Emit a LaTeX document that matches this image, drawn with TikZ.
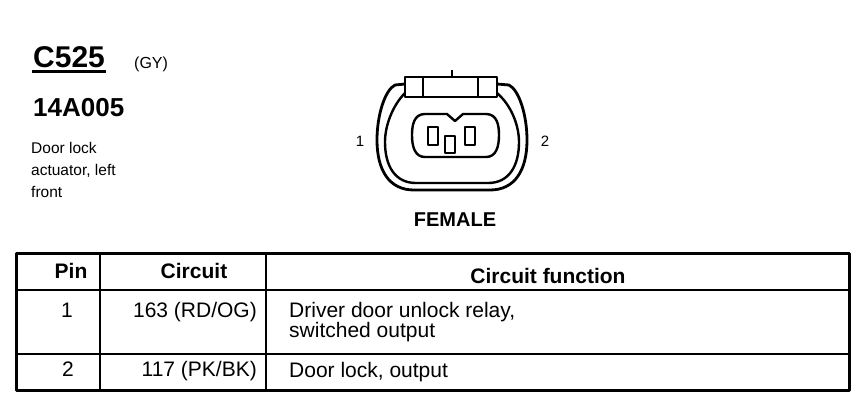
\documentclass[tikz,border=0pt]{standalone}
\usepackage{fontspec}
\setmainfont{Liberation Sans}
\usetikzlibrary{positioning}
\begin{document}
\begin{tikzpicture}[x=1pt, y=-1pt, line width=2.4pt, line join=round,
  txt/.style = {inner sep=0pt, anchor=base west, font=\fontsize{15.5}{18}\selectfont},
  cell/.style = {inner sep=0pt, anchor=base west, font=\fontsize{21}{25}\selectfont},
  head/.style = {inner sep=0pt, anchor=base, font=\fontsize{21}{25}\selectfont\bfseries},
  grid/.style = {line width=2.2pt},
  pinbox/.style = {line width=2.6pt}]
\useasboundingbox (0,0) rectangle (868,416);

% title block
\node[inner sep=0pt, anchor=base west, font=\fontsize{30}{36}\selectfont\bfseries] (c525) at (32,67) {C525};
\draw[line width=2.6pt] ([yshift=-3pt]c525.south west) -- ([yshift=-3pt]c525.south east);
\node[txt, font=\fontsize{16}{19}\selectfont] (gy) at (133,68) {(GY)};
\node[inner sep=0pt, anchor=base west, font=\fontsize{26}{31}\selectfont\bfseries] (part) at (32,116) {14A005};
\node[txt] (d1) at (30,153) {Door lock};
\node[txt] (d2) at (30,175) {actuator, left};
\node[txt] (d3) at (30,197) {front};

% connector face
\draw (405,77) rectangle (497,97);
\draw (423,77) -- (423,97);
\draw (478,77) -- (478,97);
\draw (452,70) -- (452,77);
\draw[line width=2.8pt] (405,84) -- (395,85) .. controls (385,90) and (377,115) .. (377,140)
  .. controls (377,170) and (389,190) .. (414,190) -- (490,190)
  .. controls (515,190) and (527,170) .. (527,140)
  .. controls (527,115) and (519,90) .. (509,85) -- (497,84);
\draw (405,93) .. controls (393,105) and (385,125) .. (385,142)
  .. controls (385,166) and (395,183) .. (416,183) -- (488,183)
  .. controls (509,183) and (519,166) .. (519,142)
  .. controls (519,125) and (511,105) .. (497,93);
\draw (425,114) -- (447,114) -- (455,121) -- (463,114) -- (486,114)
  .. controls (497,114) and (499,125) .. (499,135)
  .. controls (499,147) and (496,157) .. (486,157) -- (425,157)
  .. controls (415,157) and (412,147) .. (412,135)
  .. controls (412,125) and (414,114) .. (425,114) -- cycle;
\draw[pinbox] (428,127) rectangle (438,145);
\draw[pinbox] (445,136) rectangle (455,153);
\draw[pinbox] (465,127) rectangle (475,145);
\node[txt, anchor=base, font=\fontsize{15}{18}\selectfont] (p1) at (360,146) {1};
\node[txt, anchor=base, font=\fontsize{15}{18}\selectfont] (p2) at (545,146) {2};
\node[head, font=\fontsize{20}{24}\selectfont\bfseries] (fem) at (455,226) {FEMALE};

% pin table
\draw[line width=3pt] (16,253) rectangle (849,390);
\draw[grid] (16,290) -- (849,290);
\draw[grid] (16,354) -- (849,354);
\draw[grid] (100,253) -- (100,390);
\draw[grid] (266,253) -- (266,390);
\node[head] (hpin) at (71,278) {Pin};
\node[head] (hcir) at (194,278) {Circuit};
\node[head] (hfun) at (548,283) {Circuit function};
\node[cell, anchor=base] (r1pin) at (67,317) {1};
\node[cell, anchor=base east] (r1cir) at (258,317) {163 (RD/OG)};
\node[cell] (r1fun) at (288,317) {Driver door unlock relay,};
\node[cell] (r1fun2) at (288,337) {switched output};
\node[cell, anchor=base] (r2pin) at (68,376) {2};
\node[cell, anchor=base east] (r2cir) at (258,376) {117 (PK/BK)};
\node[cell] (r2fun) at (288,377) {Door lock, output};
\end{tikzpicture}
\end{document}
